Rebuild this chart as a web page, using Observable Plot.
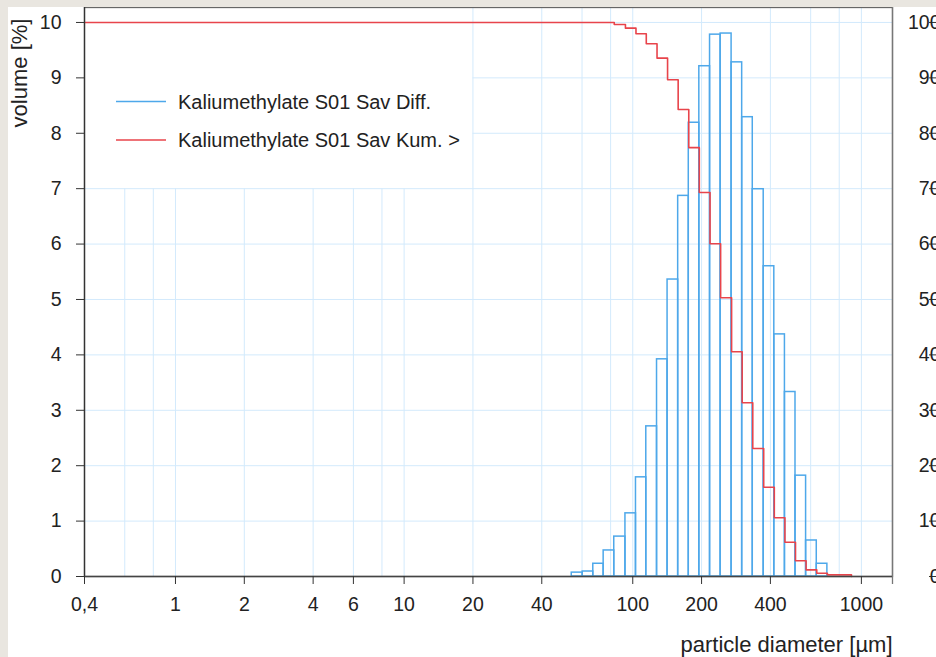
<!DOCTYPE html>
<html><head><meta charset="utf-8">
<script src="https://cdn.jsdelivr.net/npm/d3@7"></script>
<script src="https://cdn.jsdelivr.net/npm/@observablehq/plot@0.6"></script>
<style>
html,body{margin:0;padding:0;background:#e9e6e0;width:936px;height:657px;overflow:hidden;}
#panel{position:absolute;left:8px;top:7px;width:928px;height:650px;background:#fff;overflow:hidden;}
#chart{position:absolute;left:-8px;top:-7px;}
</style></head><body><div id="panel"><div id="chart"></div></div>
<script>
// particle-size class edges (µm) and differential volume (%)
const binEdges = [54.1, 60.4, 67.2, 74.6, 83.0, 92.9, 103.3, 114.6, 127.7, 142.0, 158.0, 175.8, 195.5, 217.8, 242.3, 270.6, 301.0, 334.9, 373.9, 416, 463, 515, 573, 638, 710];
const diffValues = [0.07, 0.09, 0.23, 0.47, 0.72, 1.14, 1.79, 2.71, 3.92, 5.36, 6.87, 8.19, 9.21, 9.78, 9.80, 9.28, 8.29, 6.99, 5.60, 4.37, 3.33, 1.82, 0.65, 0.23];
// cumulative oversize (%) – step starts
const cumEdges = [0.4, 83.0, 92.9, 103.3, 114.6, 127.7, 142.0, 158.0, 175.8, 195.5, 217.8, 242.3, 270.6, 301.0, 334.9, 373.9, 416, 463, 515, 573, 638, 710, 905];
const cumValues = [100, 99.64, 98.97, 97.96, 96.15, 93.56, 89.66, 84.3, 77.4, 69.3, 60.05, 50.3, 40.56, 31.35, 23.1, 16.1, 10.6, 6.19, 2.83, 1.2, 0.6, 0.3, 0];
const xTicks = [0.4, 1, 2, 4, 6, 10, 20, 40, 100, 200, 400, 1000];
const xTickLabels = ["0,4", "1", "2", "4", "6", "10", "20", "40", "100", "200", "400", "1000"];
const xGrid = [0.6, 0.8, 1, 2, 4, 6, 8, 10, 20, 40, 60, 80, 100, 200, 400, 600, 800, 1000];
const yTicks = [0, 1, 2, 3, 4, 5, 6, 7, 8, 9, 10];
const rightTickLabels = ["0", "10", "20", "30", "40", "50", "60", "70", "80", "90", "100"];
const seriesNames = ["Kaliumethylate S01 Sav Diff.", "Kaliumethylate S01 Sav Kum. >"];
const seriesColors = ["#4ea8ea", "#e8444b"];
const xLabel = "particle diameter [µm]";
const yLabel = "volume [%]";

const xDomain = [0.4, 1368];
const yDomain = [0, 10.27];
const gridColor = "#d3eafc";
const font = "'Liberation Sans', Arial, sans-serif";

const bars = diffValues.map((v, i) => ({x1: binEdges[i], x2: binEdges[i + 1], v}));
const cum = cumEdges.map((x, i) => ({x, v: cumValues[i] / 10}));

const plot = Plot.plot({
  width: 936, height: 657,
  marginLeft: 84, marginRight: 44, marginTop: 7, marginBottom: 81,
  x: {type: "log", domain: xDomain},
  y: {domain: yDomain},
  style: {background: "transparent", fontFamily: font, fontSize: "19.5px", color: "#222"},
  marks: [
    Plot.ruleX(xGrid, {x: d => d, y1: 0, y2: d => d < 20 ? 7 : yDomain[1], stroke: gridColor, strokeWidth: 1}),
    Plot.ruleY(yTicks.filter(d => d > 0), {y: d => d, x1: d => d > 7 ? 20 : xDomain[0], x2: xDomain[1], stroke: gridColor, strokeWidth: 1}),
    Plot.rect(bars, {x1: "x1", x2: "x2", y1: 0, y2: "v", fill: "none", stroke: seriesColors[0], strokeWidth: 1.5}),
    Plot.line(cum, {x: "x", y: "v", curve: "step-after", stroke: seriesColors[1], strokeWidth: 1.6}),
    Plot.frame({stroke: "#666", strokeWidth: 1.3}),
    Plot.ruleX([xDomain[0]], {stroke: "#333", strokeWidth: 1.3}),
    Plot.ruleX([xDomain[1]], {stroke: "#777", strokeWidth: 1.3, insetBottom: -8}),
    Plot.ruleY([0], {stroke: "#444", strokeWidth: 1.3}),
    Plot.axisX({ticks: xTicks, tickFormat: () => "", tickSize: 8, stroke: "#333", label: null}),
    Plot.text(xTicks, {x: d => d, text: (d, i) => xTickLabels[i], frameAnchor: "bottom", lineAnchor: "top", dy: 21, fontSize: 19.5, fill: "#222"}),
    Plot.axisY({ticks: yTicks, tickSize: 8, tickPadding: 15, fontSize: 19.5, stroke: "#333", fill: "#222", label: null}),
    Plot.axisY({anchor: "right", ticks: yTicks, tickFormat: d => rightTickLabels[yTicks.indexOf(d)], tickSize: 9, fontSize: 19.5, textAnchor: "end", dx: 36, stroke: "#333", fill: "#222", label: null}),
    Plot.text([xLabel], {text: d => d, frameAnchor: "bottom-right", textAnchor: "end", dy: 75, fontSize: 22, fill: "#222"})
  ]
});

const svg = d3.select(plot);
// rotated y-axis title
svg.append("text").text(yLabel)
  .attr("transform", "translate(19,73) rotate(-90)")
  .attr("text-anchor", "middle").attr("dy", "0.35em")
  .attr("font-family", font).attr("font-size", 22).attr("fill", "#222");
// legend
const legendRows = [101.5, 140];
seriesNames.forEach((n, i) => {
  svg.append("line").attr("x1", 116).attr("x2", 166)
    .attr("y1", legendRows[i]).attr("y2", legendRows[i])
    .attr("stroke", seriesColors[i]).attr("stroke-width", 1.6);
  svg.append("text").text(n).attr("x", 178).attr("y", legendRows[i]).attr("dy", "0.35em")
    .attr("text-anchor", "start")
    .attr("font-family", font).attr("font-size", 20).attr("fill", "#222");
});
document.getElementById("chart").appendChild(plot);
</script></body></html>
